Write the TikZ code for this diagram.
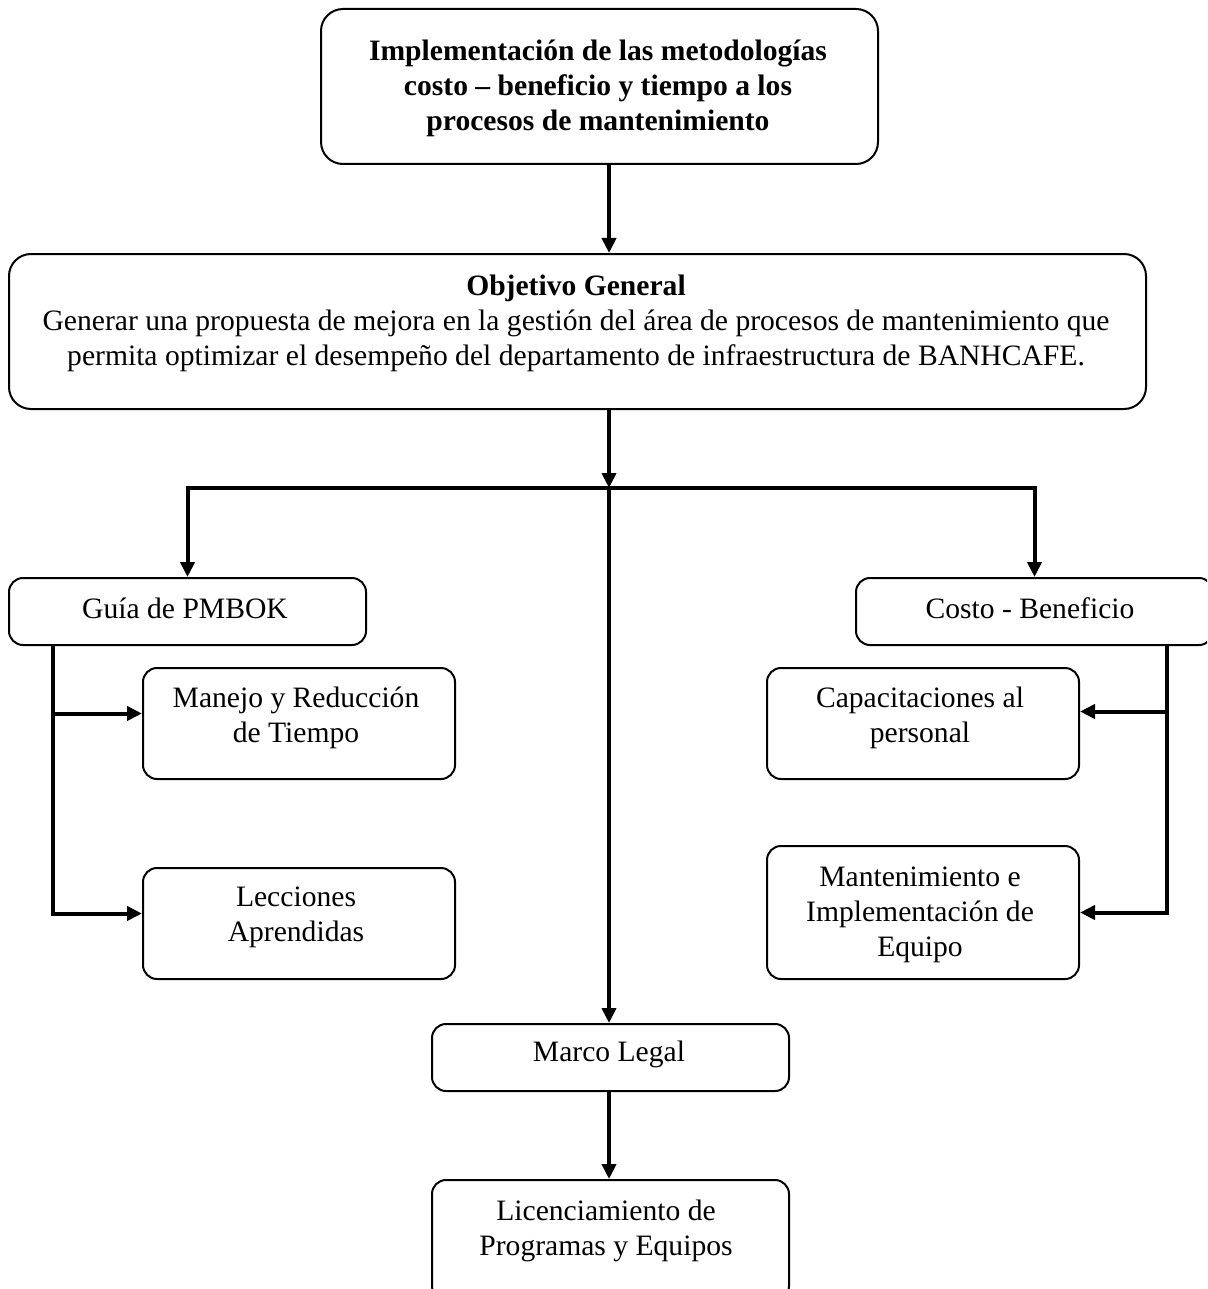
\documentclass[tikz,border=0pt]{standalone}
\usepackage{fontspec}
\setmainfont{Liberation Serif}
\usetikzlibrary{arrows.meta,calc}
\begin{document}
\begin{tikzpicture}[x=0.5pt,y=-0.5pt,
  box/.style={draw, line width=1pt, rounded corners=7pt, inner sep=0pt},
  bigbox/.style={box, rounded corners=11pt},
  txt/.style={align=center, inner sep=0pt, font=\fontsize{14.8}{17.5}\selectfont},
  conn/.style={line width=2pt},
  arr/.style={conn, -{Triangle[length=7.5pt,width=7pt]}}]
\clip (0,0) rectangle (1207,1289);
\useasboundingbox (0,0) rectangle (1207,1289);

% boxes
\node[bigbox, minimum width=278.5pt, minimum height=77.5pt] (top) at (599.5,86.5) {};
\node[bigbox, minimum width=568.5pt, minimum height=77.5pt] (obj) at (577.5,331.5) {};
\node[box, minimum width=178.5pt, minimum height=33.5pt] (guia) at (187.5,611.5) {};
\node[box, minimum width=178.5pt, minimum height=33.5pt] (costo) at (1034.5,611.5) {};
\node[box, minimum width=156pt, minimum height=55.5pt] (manejo) at (299,723.5) {};
\node[box, minimum width=156pt, minimum height=55.5pt] (lecc) at (299,923.5) {};
\node[box, minimum width=156pt, minimum height=55.5pt] (capac) at (923,723.5) {};
\node[box, minimum width=156pt, minimum height=66.5pt] (mant) at (923,912.5) {};
\node[box, minimum width=178.5pt, minimum height=33.5pt] (marco) at (610.5,1057.5) {};
\node[box, minimum width=178.5pt, minimum height=60pt] (lic) at (610.5,1240) {};

% texts
\node[txt, font=\fontsize{14.8}{17.5}\selectfont\bfseries] (topt) at (598,88)
  {Implementación de las metodologías\\costo -- beneficio y tiempo a los\\procesos de mantenimiento};
\node[txt] (objt) at (576,323)
  {\textbf{Objetivo General}\\Generar una propuesta de mejora en la gestión del área de procesos de mantenimiento que\\permita optimizar el desempeño del departamento de infraestructura de BANHCAFE.};
\node[txt] (guiat) at (185,608) {Guía de PMBOK};
\node[txt] (costot) at (1030,608) {Costo - Beneficio};
\node[txt] (manejot) at (296,717.5) {Manejo y Reducción\\de Tiempo};
\node[txt] (lecct) at (296,917.5) {Lecciones\\Aprendidas};
\node[txt] (capact) at (920,717.5) {Capacitaciones al\\personal};
\node[txt] (mantt) at (920,915) {Mantenimiento e\\Implementación de\\Equipo};
\node[txt] (marcot) at (609,1054) {Marco Legal};
\node[txt] (lict) at (606,1230.5) {Licenciamiento de\\Programas y Equipos};

% connectors
\coordinate (sp) at (609,0);
\coordinate (j) at (609,488);
\coordinate (lx) at (53,0);
\coordinate (rx) at (1167,0);
\coordinate (mw) at ([yshift=5pt]manejo.west);
\coordinate (lw) at ([yshift=5pt]lecc.west);
\coordinate (ce) at ([yshift=6pt]capac.east);
\draw[arr] (top.south -| sp) -- (obj.north -| sp);
\draw[arr] (obj.south -| sp) -- (j);
\draw[arr] (j) -| (guia.north);
\draw[arr] (j) -| (costo.north);
\draw[arr] (j) -- (marco.north -| sp);
\draw[arr] (marco.south -| sp) -- (lic.north -| sp);
\draw[arr] (guia.south -| lx) |- (lw);
\draw[arr] (lx |- mw) -- (mw);
\draw[arr] (costo.south -| rx) |- (mant.east);
\draw[arr] (rx |- ce) -- (ce);
\end{tikzpicture}
\end{document}
